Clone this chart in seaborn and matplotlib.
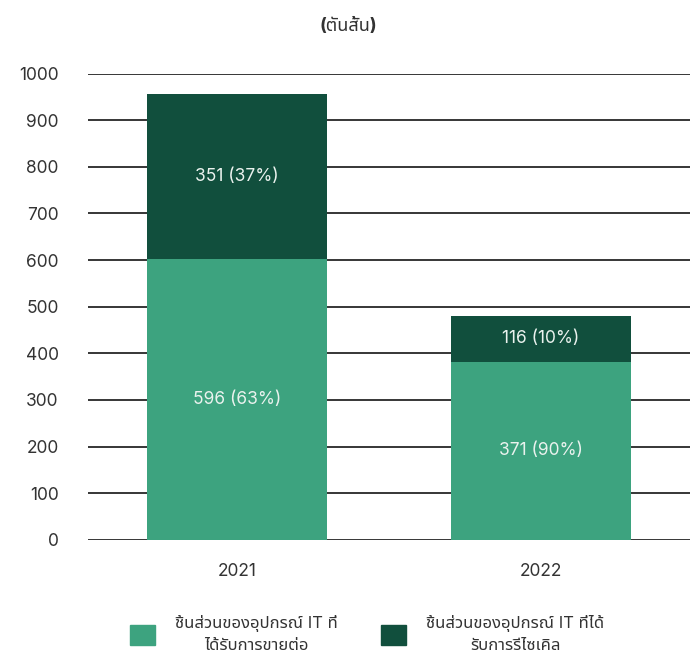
import matplotlib
matplotlib.use("Agg")
import pandas as pd
import seaborn as sns
import matplotlib.pyplot as plt
from matplotlib.patches import Patch

# ข้อมูล (ความสูงของแท่งอ่านจากภาพ, ป้ายตามต้นฉบับ)
years = ["2021", "2022"]
resale = [602, 382]        # ขายต่อ
recycle = [354, 98]        # รีไซเคิล
resale_labels = ["596 (63%)", "371 (90%)"]
recycle_labels = ["351 (37%)", "116 (10%)"]
legend_labels = ["ชิ้นส่วนของอุปกรณ์ IT ที่\nได้รับการขายต่อ",
                 "ชิ้นส่วนของอุปกรณ์ IT ที่ได้\nรับการรีไซเคิล"]
yticks = [0, 100, 200, 300, 400, 500, 600, 700, 800, 900, 1000]

light = "#3DA37F"
dark = "#114F3D"
text_col = "#333333"

sns.set_theme(style="white")
plt.rcParams["font.family"] = ["Inter", "Noto Sans Thai", "DejaVu Sans"]

df = pd.DataFrame({"ปี": years, "ขายต่อ": resale, "รีไซเคิล": recycle})
df["รวม"] = df["ขายต่อ"] + df["รีไซเคิล"]

fig = plt.figure(figsize=(6.96, 6.69), dpi=100)
ax = fig.add_axes([0.1264, 0.193, 0.8646, 0.697])

# เส้นกริด
for v in yticks:
    ax.axhline(v, color="black", lw=1.1, zorder=0)

sns.barplot(data=df, x="ปี", y="รวม", color=dark, width=0.592,
            saturation=1, linewidth=0, ax=ax, zorder=2)
sns.barplot(data=df, x="ปี", y="ขายต่อ", color=light, width=0.592,
            saturation=1, linewidth=0, ax=ax, zorder=2)

# ป้ายกลางส่วนล่าง
ax.bar_label(ax.containers[1], labels=resale_labels, label_type="center",
             color="#EAF2EE", fontsize=12.5)
# ป้ายกลางส่วนบน
for i, (b, r, lab) in enumerate(zip(resale, recycle, recycle_labels)):
    ax.text(i, b + r / 2, lab, ha="center", va="center",
            color="#EAF2EE", fontsize=12.5, zorder=3)

ax.set_ylim(0, 1000)
ax.set_xlim(-0.49, 1.49)
ax.set_yticks(yticks)
ax.set_xlabel("")
ax.set_ylabel("")
ax.tick_params(axis="y", length=0, pad=21, labelsize=12.5, labelcolor=text_col)
ax.tick_params(axis="x", length=0, pad=17, labelsize=12.5, labelcolor=text_col)
sns.despine(ax=ax, left=True, bottom=True)

fig.text(0.5, 0.961, "(ตันสั้น)", ha="center", va="center",
         fontsize=13, fontweight="bold", color=text_col)

handles = [Patch(color=light), Patch(color=dark)]
leg = fig.legend(handles, legend_labels, ncol=2, loc="center",
                 bbox_to_anchor=(0.528, 0.052), frameon=False,
                 fontsize=12, handlelength=1.5, handleheight=1.5,
                 columnspacing=2.6, handletextpad=1.2)
for t in leg.get_texts():
    t.set_multialignment("center")
    t.set_linespacing(1.5)
    t.set_color(text_col)

fig.savefig("out.png", dpi=100)
